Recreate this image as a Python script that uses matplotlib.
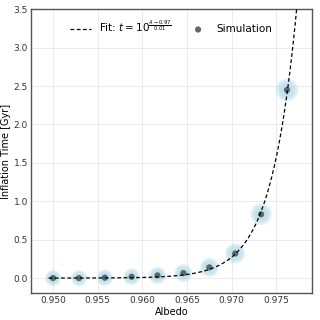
import matplotlib
matplotlib.use("Agg")
import matplotlib.pyplot as plt
import numpy as np

# ---------------------------------------------------------------------------
# Data
# ---------------------------------------------------------------------------
albedo = [0.9500, 0.9529, 0.9558, 0.9588, 0.9617, 0.9646, 0.9675, 0.9704, 0.9733, 0.9762]
inflation_time = [0.00, 0.00, 0.005, 0.017, 0.035, 0.065, 0.139, 0.32, 0.83, 2.45]
halo_size = [140, 140, 145, 150, 160, 175, 195, 220, 250, 280]

fit_label = r"Fit: $t = 10^{\frac{A-0.97}{0.01}}$"
sim_label = "Simulation"

# ---------------------------------------------------------------------------
# Fit: exponential in albedo, from the points well above zero
# ---------------------------------------------------------------------------
a = np.array(albedo)
t = np.array(inflation_time)
mask = t > 0.3
slope, intercept = np.polyfit(a[mask], np.log10(t[mask]), 1)
a_fit = np.linspace(0.9495, 0.979, 400)
t_fit = 10 ** (slope * a_fit + intercept)

# ---------------------------------------------------------------------------
# Plot
# ---------------------------------------------------------------------------
fig = plt.figure(figsize=(3.2, 3.2), dpi=100)
ax = fig.add_axes([0.096, 0.083, 0.879, 0.888])

# soft halo around each point
for frac in np.linspace(1.0, 0.3, 6):
    ax.scatter(albedo, inflation_time, s=np.array(halo_size) * frac,
               color="#add8e6", alpha=0.18, edgecolors="none", zorder=2)

ax.plot(a_fit, t_fit, color="black", linewidth=0.9, dashes=(3, 2),
        label=fit_label, zorder=4)
ax.scatter(albedo, inflation_time, s=20, color="#4c5a63", alpha=0.9,
           edgecolors="none", label=sim_label, zorder=3)

ax.set_xlim(0.9475, 0.979)
ax.set_ylim(-0.2, 3.5)
ax.set_xticks([0.950, 0.955, 0.960, 0.965, 0.970, 0.975])
ax.set_yticks(np.arange(0, 3.51, 0.5))
ax.xaxis.set_major_formatter(matplotlib.ticker.FormatStrFormatter("%.3f"))
ax.yaxis.set_major_formatter(matplotlib.ticker.FormatStrFormatter("%.1f"))
ax.tick_params(direction="in", length=0, pad=2, labelsize=6.5, colors="#333333")
ax.set_xlabel("Albedo", fontsize=7, labelpad=1)
ax.set_ylabel("Inflation Time [Gyr]", fontsize=7, labelpad=2)
ax.grid(True, color="#e8e8e8", linewidth=0.6)
ax.set_axisbelow(True)
for sp in ax.spines.values():
    sp.set_color("#555555")
    sp.set_linewidth(1.0)

ax.legend(loc="upper center", ncol=2, frameon=False, fontsize=7.5,
          handlelength=2.0, columnspacing=1.5, bbox_to_anchor=(0.5, 1.0))

fig.savefig("out.png", dpi=100)
plt.close(fig)
